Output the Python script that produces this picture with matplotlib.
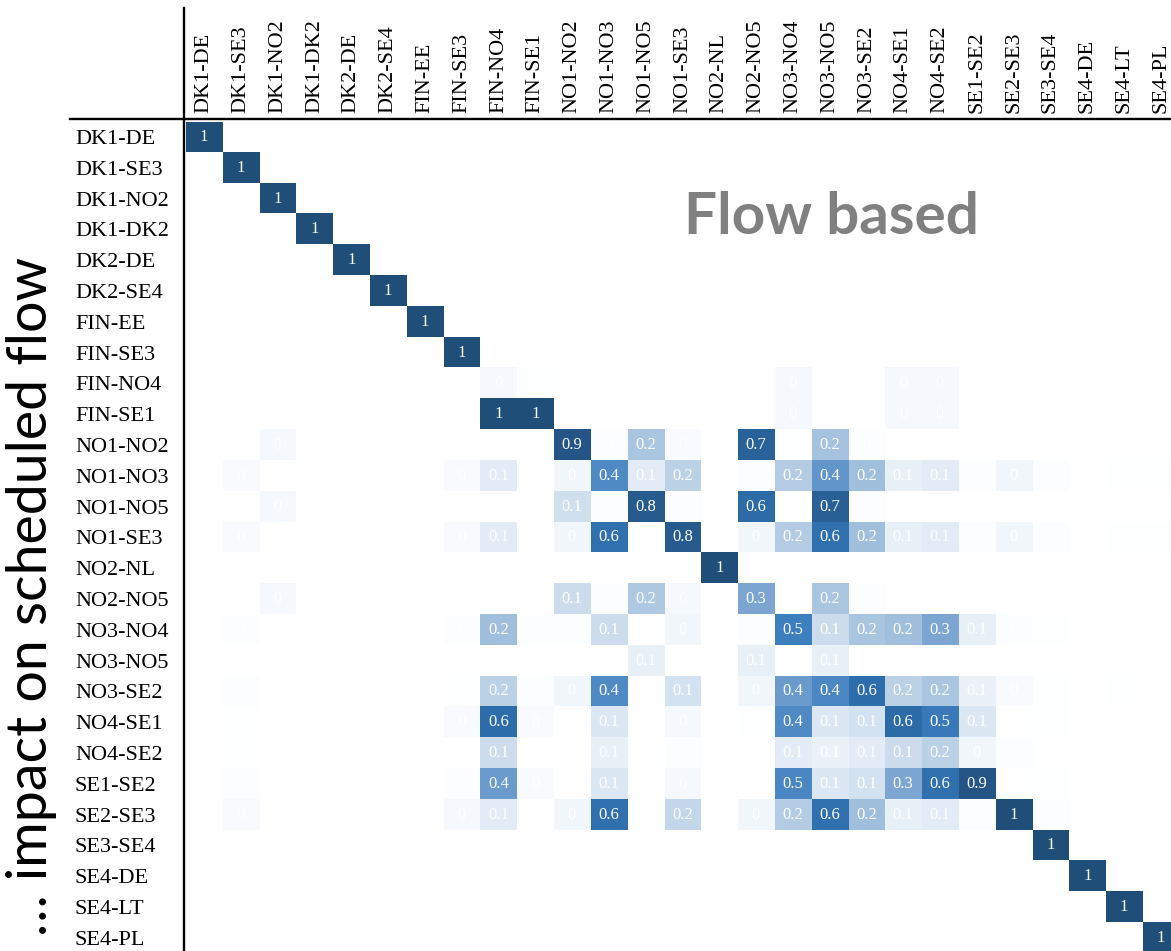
import numpy as np
import matplotlib.pyplot as plt
from matplotlib.colors import LinearSegmentedColormap
from matplotlib.lines import Line2D


# ============================================================
# Data
# ============================================================

LINES = [
    "DK1-DE", "DK1-SE3", "DK1-NO2", "DK1-DK2", "DK2-DE", "DK2-SE4",
    "FIN-EE", "FIN-SE3", "FIN-NO4", "FIN-SE1", "NO1-NO2", "NO1-NO3",
    "NO1-NO5", "NO1-SE3", "NO2-NL", "NO2-NO5", "NO3-NO4", "NO3-NO5",
    "NO3-SE2", "NO4-SE1", "NO4-SE2", "SE1-SE2", "SE2-SE3", "SE3-SE4",
    "SE4-DE", "SE4-LT", "SE4-PL",
]

# Rows with more than a single 1 on the diagonal (column -> value).
# Rows not listed here only have the value 1 on the diagonal.
FIN_NO4 = {"FIN-NO4": 0.03, "FIN-SE1": 0.005, "NO3-NO4": 0.03,
           "NO4-SE1": 0.03, "NO4-SE2": 0.03}
FIN_SE1 = {"FIN-NO4": 1.0, "FIN-SE1": 1.0, "NO3-NO4": 0.03,
           "NO4-SE1": 0.03, "NO4-SE2": 0.03}
NO1_NO2 = {"DK1-NO2": 0.03, "NO1-NO2": 0.88, "NO1-NO3": 0.01,
           "NO1-NO5": 0.22, "NO1-SE3": 0.02, "NO2-NO5": 0.70,
           "NO3-NO4": 0.005, "NO3-NO5": 0.23, "NO3-SE2": 0.01}
NO1_NO3 = {"DK1-SE3": 0.02, "FIN-SE3": 0.02, "FIN-NO4": 0.08,
           "NO1-NO2": 0.04, "NO1-NO3": 0.44, "NO1-NO5": 0.08,
           "NO1-SE3": 0.18, "NO2-NO5": 0.01, "NO3-NO4": 0.20,
           "NO3-NO5": 0.38, "NO3-SE2": 0.24, "NO4-SE1": 0.07,
           "NO4-SE2": 0.08, "SE1-SE2": 0.01, "SE2-SE3": 0.04,
           "SE3-SE4": 0.01, "SE4-LT": 0.004, "SE4-PL": 0.004}
NO1_NO5 = {"DK1-NO2": 0.03, "NO1-NO2": 0.13, "NO1-NO3": 0.01,
           "NO1-NO5": 0.80, "NO1-SE3": 0.01, "NO2-NO5": 0.62,
           "NO3-NO5": 0.72, "NO3-SE2": 0.01}
NO1_SE3 = {"DK1-SE3": 0.02, "FIN-SE3": 0.02, "FIN-NO4": 0.08,
           "NO1-NO2": 0.04, "NO1-NO3": 0.58, "NO1-SE3": 0.80,
           "NO2-NO5": 0.04, "NO3-NO4": 0.20, "NO3-NO5": 0.58,
           "NO3-SE2": 0.24, "NO4-SE1": 0.07, "NO4-SE2": 0.08,
           "SE1-SE2": 0.01, "SE2-SE3": 0.04, "SE3-SE4": 0.01,
           "SE4-LT": 0.004, "SE4-PL": 0.004}
NO2_NO5 = {"DK1-NO2": 0.03, "NO1-NO2": 0.14, "NO1-NO3": 0.01,
           "NO1-NO5": 0.21, "NO1-SE3": 0.03, "NO2-NO5": 0.32,
           "NO3-NO5": 0.22, "NO3-SE2": 0.01}
NO3_NO4 = {"DK1-SE3": 0.01, "FIN-SE3": 0.01, "FIN-NO4": 0.24,
           "FIN-SE1": 0.01, "NO1-NO2": 0.01, "NO1-NO3": 0.14,
           "NO1-SE3": 0.04, "NO2-NO5": 0.01, "NO3-NO4": 0.50,
           "NO3-NO5": 0.14, "NO3-SE2": 0.22, "NO4-SE1": 0.24,
           "NO4-SE2": 0.32, "SE1-SE2": 0.07, "SE2-SE3": 0.01,
           "SE3-SE4": 0.005}
NO3_NO5 = {"NO1-NO5": 0.07, "NO2-NO5": 0.07, "NO3-NO5": 0.07}
NO3_SE2 = {"DK1-SE3": 0.01, "FIN-SE3": 0.005, "FIN-NO4": 0.18,
           "FIN-SE1": 0.01, "NO1-NO2": 0.04, "NO1-NO3": 0.44,
           "NO1-SE3": 0.12, "NO2-NO5": 0.04, "NO3-NO4": 0.36,
           "NO3-NO5": 0.45, "NO3-SE2": 0.60, "NO4-SE1": 0.18,
           "NO4-SE2": 0.22, "SE1-SE2": 0.06, "SE2-SE3": 0.02,
           "SE3-SE4": 0.005, "SE4-LT": 0.004}
NO4_SE1 = {"DK1-SE3": 0.005, "FIN-SE3": 0.02, "FIN-NO4": 0.60,
           "FIN-SE1": 0.02, "NO1-NO3": 0.10, "NO1-SE3": 0.03,
           "NO2-NO5": 0.005, "NO3-NO4": 0.44, "NO3-NO5": 0.10,
           "NO3-SE2": 0.12, "NO4-SE1": 0.62, "NO4-SE2": 0.53,
           "SE1-SE2": 0.10, "SE3-SE4": 0.004}
NO4_SE2 = {"DK1-SE3": 0.004, "FIN-NO4": 0.14, "NO1-NO3": 0.07,
           "NO1-SE3": 0.01, "NO3-NO4": 0.08, "NO3-NO5": 0.06,
           "NO3-SE2": 0.08, "NO4-SE1": 0.14, "NO4-SE2": 0.18,
           "SE1-SE2": 0.04, "SE2-SE3": 0.01}
SE1_SE2 = {"DK1-SE3": 0.01, "FIN-SE3": 0.01, "FIN-NO4": 0.36,
           "FIN-SE1": 0.02, "NO1-NO3": 0.10, "NO1-SE3": 0.03,
           "NO3-NO4": 0.46, "NO3-NO5": 0.10, "NO3-SE2": 0.12,
           "NO4-SE1": 0.32, "NO4-SE2": 0.58, "SE1-SE2": 0.88,
           "SE3-SE4": 0.004}
SE2_SE3 = {"DK1-SE3": 0.02, "FIN-SE3": 0.03, "FIN-NO4": 0.08,
           "NO1-NO2": 0.04, "NO1-NO3": 0.58, "NO1-SE3": 0.16,
           "NO2-NO5": 0.04, "NO3-NO4": 0.20, "NO3-NO5": 0.58,
           "NO3-SE2": 0.24, "NO4-SE1": 0.07, "NO4-SE2": 0.08,
           "SE1-SE2": 0.01, "SE2-SE3": 1.0, "SE3-SE4": 0.01}

ROWS = {
    "FIN-NO4": FIN_NO4, "FIN-SE1": FIN_SE1, "NO1-NO2": NO1_NO2,
    "NO1-NO3": NO1_NO3, "NO1-NO5": NO1_NO5, "NO1-SE3": NO1_SE3,
    "NO2-NO5": NO2_NO5, "NO3-NO4": NO3_NO4, "NO3-NO5": NO3_NO5,
    "NO3-SE2": NO3_SE2, "NO4-SE1": NO4_SE1, "NO4-SE2": NO4_SE2,
    "SE1-SE2": SE1_SE2, "SE2-SE3": SE2_SE3,
}

Y_LABEL = "\u2026 impact on scheduled flow"
TAG = "Flow based"


# ============================================================
# Style
# ============================================================

W, H = 1171, 951
SERIF = "Liberation Serif"
SANS = "Lato"

CMAP = LinearSegmentedColormap.from_list("flow_blues", [
    (0.00, "#ffffff"), (0.05, "#eef4fa"), (0.10, "#dbe7f3"),
    (0.20, "#b3cce4"), (0.30, "#84abd4"), (0.40, "#5a92c8"),
    (0.50, "#3e7fbf"), (0.60, "#2e6dab"), (0.70, "#2a6399"),
    (0.80, "#275b8e"), (0.90, "#245485"), (1.00, "#1f4e79"),
])
CMAP.set_bad("white")


def cell_text(v):
    r = round(v, 1)
    if r == 0:
        return "0"
    if r == 1:
        return "1"
    return f"{r:.1f}"


def build_matrix():
    n = len(LINES)
    mat = np.full((n, n), np.nan)
    for i, name in enumerate(LINES):
        row = ROWS.get(name, {name: 1.0})
        for col, val in row.items():
            mat[i, LINES.index(col)] = val
    return mat


# ============================================================
# Figure
# ============================================================

def main():
    mat = build_matrix()
    n = len(LINES)

    fig = plt.figure(figsize=(W / 100, H / 100), dpi=100)

    # axes in pixel terms: cells 36.8 x 30.8 px, cropped right / bottom
    left, top = 185.6, 121.6
    cw, ch = 36.8, 30.8
    ax = fig.add_axes([left / W, 1 - (top + n * ch) / H, n * cw / W, n * ch / H])

    ax.imshow(mat, cmap=CMAP, vmin=0, vmax=1, aspect="auto",
              interpolation="nearest")

    for i in range(n):
        for j in range(n):
            v = mat[i, j]
            if np.isfinite(v):
                ax.text(j, i, cell_text(v), ha="center", va="center",
                        color="white", fontsize=12, family=SERIF)

    ax.set_xticks(np.arange(n))
    ax.set_yticks(np.arange(n))
    ax.xaxis.tick_top()
    ax.set_xticklabels(LINES, rotation=90, fontsize=16, family=SERIF)
    ax.set_yticklabels(LINES, ha="left", fontsize=16, family=SERIF)
    ax.tick_params(axis="x", length=0, pad=6.2)
    ax.tick_params(axis="y", length=0, pad=(left - 75) * 0.72)
    for spine in ax.spines.values():
        spine.set_visible(False)

    # table border lines
    fig.add_artist(Line2D([183.5 / W, 183.5 / W], [1 - 8 / H, 0],
                          color="black", lw=1.7))
    fig.add_artist(Line2D([70 / W, 1], [1 - 119 / H, 1 - 119 / H],
                          color="black", lw=1.7))

    fig.text(32 / W, 1 - 596 / H, Y_LABEL, rotation=90, ha="center",
             va="center", fontsize=40, family=SANS, color="black")
    fig.text(831 / W, 1 - 218 / H, TAG, ha="center", va="center",
             fontsize=42, family=SANS, fontweight="bold", color="#808080")

    fig.savefig("out.png", dpi=100)
    plt.close(fig)


if __name__ == "__main__":
    main()
